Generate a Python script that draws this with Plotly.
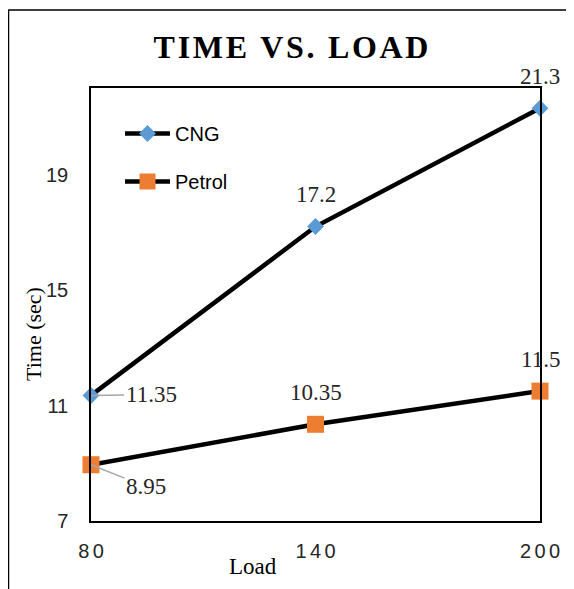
import plotly.graph_objects as go

# ---- data ----
loads = [80, 140, 200]
cng_time = [11.35, 17.2, 21.3]
petrol_time = [8.95, 10.35, 11.5]
y_ticks = [7, 11, 15, 19]
title_text = "TIME VS. LOAD"
x_title = "Load"
y_title = "Time (sec)"

# page offset (browser body margin)
OFF = 8
W, H = 574 - OFF, 589 - OFF
ML, MR, MT, MB = 91 - OFF, 34, 88 - OFF, 68
PW, PH = W - ML - MR, H - MT - MB

def px_to_paper_x(px):  # px in screen coords of reference
    return (px - OFF - ML) / PW

def px_to_paper_y(py):
    return (H - MB - (py - OFF)) / PH

fig = go.Figure()

fig.add_trace(go.Scatter(
    x=loads, y=cng_time, name="CNG", mode="lines+markers",
    line=dict(color="black", width=4.5),
    marker=dict(symbol="diamond", size=13, color="#5B9BD5"),
    legendgroup="cng", cliponaxis=False,
))
fig.add_trace(go.Scatter(
    x=loads, y=petrol_time, name="Petrol", mode="lines+markers",
    line=dict(color="black", width=4.5),
    marker=dict(symbol="square", size=17, color="#ED7D31"),
    legendgroup="petrol", cliponaxis=False,
))

label_font = dict(family="Liberation Serif, Times New Roman, serif", size=23, color="#262626")

def add_label(x, y, leader=None):
    txt = f"{y:g}"
    if leader is None:
        fig.add_annotation(x=x, y=y, text=txt, showarrow=False, yshift=32,
                           font=label_font)
    else:
        ax, ay = leader
        fig.add_annotation(x=x, y=y, text=txt, showarrow=True, ax=ax, ay=ay,
                           arrowhead=0, arrowwidth=1.5, arrowcolor="#A6A6A6",
                           standoff=0, startstandoff=0, font=label_font)

for i, (x, y) in enumerate(zip(loads, cng_time)):
    add_label(x, y, leader=(60, -1) if i == 0 else None)
for i, (x, y) in enumerate(zip(loads, petrol_time)):
    add_label(x, y, leader=(55, 22) if i == 0 else None)

tick_font = dict(family="Liberation Sans, Arial, sans-serif", size=20, color="#262626")

fig.update_xaxes(
    range=[loads[0], loads[-1]], tickvals=loads,
    ticktext=["\u200a\u200a".join(str(v)) for v in loads],
    showgrid=False, zeroline=False, showline=True, mirror=True,
    linecolor="black", linewidth=1.5, ticks="", tickfont=tick_font,
    ticklabelstandoff=11,
)
fig.update_yaxes(
    range=[7, 22], tickvals=y_ticks,
    showgrid=False, zeroline=False, showline=True, mirror=True,
    linecolor="black", linewidth=1.5, ticks="", tickfont=tick_font,
    ticklabelstandoff=17,
)

serif = "Liberation Serif, Times New Roman, serif"
# axis titles
fig.add_annotation(xref="paper", yref="paper", x=px_to_paper_x(253), y=px_to_paper_y(566),
                   xanchor="center", yanchor="middle",
                   text=x_title, showarrow=False,
                   font=dict(family=serif, size=23, color="black"))
fig.add_annotation(xref="paper", yref="paper", x=px_to_paper_x(33), y=px_to_paper_y(334),
                   xanchor="center", yanchor="middle",
                   text=y_title, showarrow=False, textangle=-90,
                   font=dict(family=serif, size=22, color="black"))

# outer chart border (top and left visible)
fig.add_shape(type="rect", xref="paper", yref="paper",
              x0=px_to_paper_x(8.5), x1=px_to_paper_x(620),
              y0=px_to_paper_y(640), y1=px_to_paper_y(10),
              line=dict(color="black", width=1.5), layer="below")

spaced_title = "\u200a".join(title_text)

fig.update_layout(
    width=W, height=H,
    margin=dict(l=ML, r=MR, t=MT, b=MB),
    paper_bgcolor="white", plot_bgcolor="white",
    title=dict(text=f"<b>{spaced_title}</b>", x=px_to_paper_x(291), xref="paper", xanchor="center",
               y=1 - (47 - OFF) / H, yanchor="middle",
               font=dict(family=serif, size=32, color="black")),
    showlegend=True,
    legend=dict(x=px_to_paper_x(120), y=px_to_paper_y(114), xanchor="left", yanchor="top",
                bgcolor="rgba(0,0,0,0)", itemwidth=45, tracegroupgap=19,
                font=dict(family="Liberation Sans, Arial, sans-serif", size=20, color="black")),
)

fig.write_html("out.html")
